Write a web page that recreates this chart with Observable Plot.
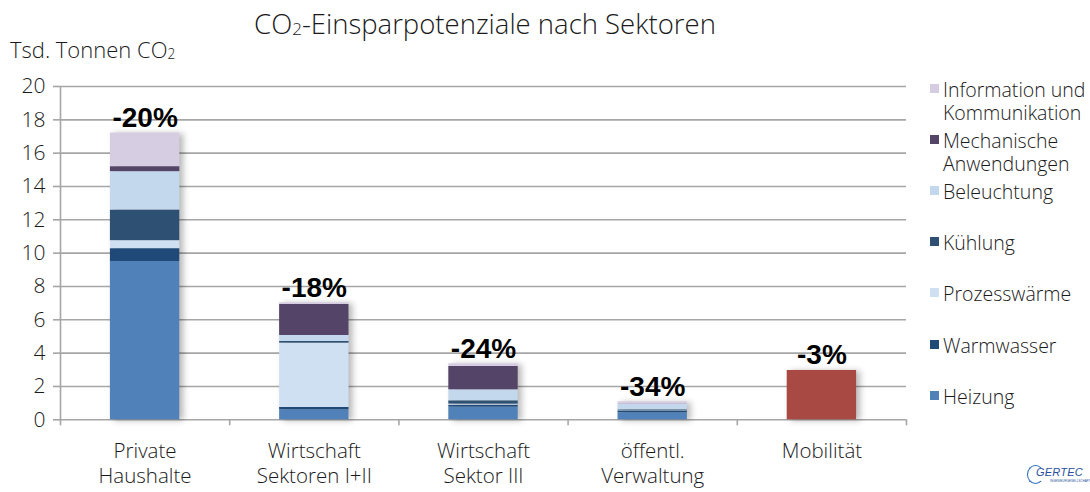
<!DOCTYPE html>
<html>
<head>
<meta charset="utf-8">
<script src="https://cdn.jsdelivr.net/npm/d3@7"></script>
<script src="https://cdn.jsdelivr.net/npm/@observablehq/plot@0.6"></script>
<style>
  html, body { margin: 0; background: #fff; overflow: hidden; }
  #wrap { position: relative; width: 1090px; height: 492px; overflow: hidden; font-family: "Open Sans", sans-serif; font-weight: 300; color: #1a1a1a; }
  #chart { position: absolute; left: 0; top: 0; }
  #title { position: absolute; left: 0; width: 970px; top: 5px; text-align: center; font-size: 27.5px; white-space: nowrap; }
  #ylabel { position: absolute; left: 10px; top: 34px; font-size: 22px; white-space: nowrap; }
  sub { font-size: 0.62em; vertical-align: baseline; position: relative; top: 0.05em; }
  #legend { position: absolute; left: 930px; top: 77.6px; width: 160px; }
  .item { position: relative; height: 51.2px; padding-left: 13px; font-size: 19.5px; line-height: 23px; white-space: pre; }
  .sw { position: absolute; left: 0; top: 6px; width: 9px; height: 9px; }
  #logo { position: absolute; left: 1030px; top: 464px; color: #2a4f9c; font-family: "Liberation Sans", sans-serif; font-style: italic; font-size: 11px; font-weight: 400; }
  #logo .c { position: absolute; left: -3px; top: 1px; width: 15px; height: 17px; border: 1.5px solid #2a6fc0; border-right-color: transparent; border-radius: 50%; }
  #logo .t { position: relative; left: 6px; top: 2px; letter-spacing: 0.2px; }
  #logo .s { position: absolute; left: 20px; top: 15px; font-size: 3px; font-style: normal; white-space: nowrap; }
  svg g[aria-label="rect"] { filter: drop-shadow(4px 1px 3px rgba(0,0,0,0.28)); }
</style>
</head>
<body>
<div id="wrap">
  <div id="chart"></div>
  <div id="title">CO<sub>2</sub>-Einsparpotenziale nach Sektoren</div>
  <div id="ylabel">Tsd. Tonnen CO<sub>2</sub></div>
  <div id="legend"></div>
  <div id="logo"><span class="c"></span><span class="t">GERTEC</span><span class="s">INGENIEURGESELLSCHAFT</span></div>
</div>
<script>
// ---- data ----
const categories = ["Private\nHaushalte", "Wirtschaft\nSektoren I+II", "Wirtschaft\nSektor III", "öffentl.\nVerwaltung", "Mobilität"];
const seriesNames = ["Heizung", "Warmwasser", "Prozesswärme", "Kühlung", "Beleuchtung", "Mechanische Anwendungen", "Information und Kommunikation", "Mobilität"];
const heizung       = [9.5, 0.6, 0.76, 0.42, 0];
const warmwasser    = [0.77, 0.14, 0.12, 0.12, 0];
const prozesswaerme = [0.48, 3.86, 0.06, 0.05, 0];
const kuehlung      = [1.84, 0.1, 0.2, 0.03, 0];
const beleuchtung   = [2.3, 0.36, 0.66, 0.3, 0];
const mechanisch    = [0.3, 1.86, 1.4, 0.02, 0];
const information   = [2.02, 0.1, 0.16, 0.14, 0];
const mobilitaet    = [0, 0, 0, 0, 2.96];
const einsparung    = ["-20%", "-18%", "-24%", "-34%", "-3%"];
const yTicks = [0, 2, 4, 6, 8, 10, 12, 14, 16, 18, 20];
const legendSeries = ["Information und Kommunikation", "Mechanische Anwendungen", "Beleuchtung", "Kühlung", "Prozesswärme", "Warmwasser", "Heizung"];
const legendLabels = ["Information und\nKommunikation", "Mechanische\nAnwendungen", "Beleuchtung", "Kühlung", "Prozesswärme", "Warmwasser", "Heizung"];
const colors = ["#5082b9", "#1f4a78", "#cfe0f2", "#2e5072", "#c4d8ed", "#534468", "#d7cde2", "#a84943"];

// ---- build stacked rows ----
const seriesValues = [heizung, warmwasser, prozesswaerme, kuehlung, beleuchtung, mechanisch, information, mobilitaet];
const rows = [];
const totals = categories.map((c, i) => {
  let acc = 0;
  seriesValues.forEach((vals, s) => {
    const v = vals[i];
    if (v > 0) rows.push({i, series: seriesNames[s], y1: acc, y2: acc + v});
    acc += v;
  });
  return acc;
});
const labels = categories.map((c, i) => ({i, total: totals[i], text: einsparung[i]}));
const positions = categories.map((c, i) => i);
const boundaries = [...positions.map(i => i - 0.5), categories.length - 0.5];
const grey = "#a6a6a6";
const half = 0.205;

const chart = Plot.plot({
  width: 1090,
  height: 492,
  marginLeft: 60,
  marginRight: 184,
  marginTop: 86,
  marginBottom: 72.7,
  style: {fontFamily: "'Open Sans', sans-serif", fontWeight: 300, background: "transparent", color: "#1a1a1a"},
  x: {type: "linear", domain: [-0.5, categories.length - 0.5], axis: null},
  y: {domain: [0, 20], axis: null},
  color: {domain: seriesNames, range: colors},
  marks: [
    Plot.ruleY(yTicks, {stroke: grey, strokeWidth: 1.6}),
    Plot.ruleX([-0.5], {stroke: grey, strokeWidth: 1.6}),
    Plot.axisY(yTicks, {tickSize: 7, tickPadding: 8, stroke: grey, strokeWidth: 1.6, fill: "#1a1a1a", fontSize: 21, label: null}),
    Plot.axisX(boundaries, {tickSize: 6, stroke: grey, strokeWidth: 1.6, tickFormat: () => "", label: null}),
    Plot.axisX(positions, {tickSize: 0, tickPadding: 21, fontSize: 20.5, lineHeight: 1.2, fill: "#1a1a1a", tickFormat: i => categories[i], label: null}),
    Plot.rectY(rows, {x1: d => d.i - half, x2: d => d.i + half, y1: "y1", y2: "y2", fill: "series"}),
    Plot.text(labels, {x: "i", y: "total", text: "text", lineAnchor: "bottom", dy: -6, fontSize: 28, fontWeight: "bold", fontFamily: "'Liberation Sans', Arial, sans-serif", fill: "#000"})
  ]
});
document.getElementById("chart").appendChild(chart);

// ---- legend ----
const legend = document.getElementById("legend");
legendSeries.forEach((name, k) => {
  const item = document.createElement("div");
  item.className = "item";
  const sw = document.createElement("span");
  sw.className = "sw";
  sw.style.background = colors[seriesNames.indexOf(name)];
  item.appendChild(sw);
  const txt = document.createElement("span");
  txt.textContent = legendLabels[k];
  item.appendChild(txt);
  legend.appendChild(item);
});
</script>
</body>
</html>
